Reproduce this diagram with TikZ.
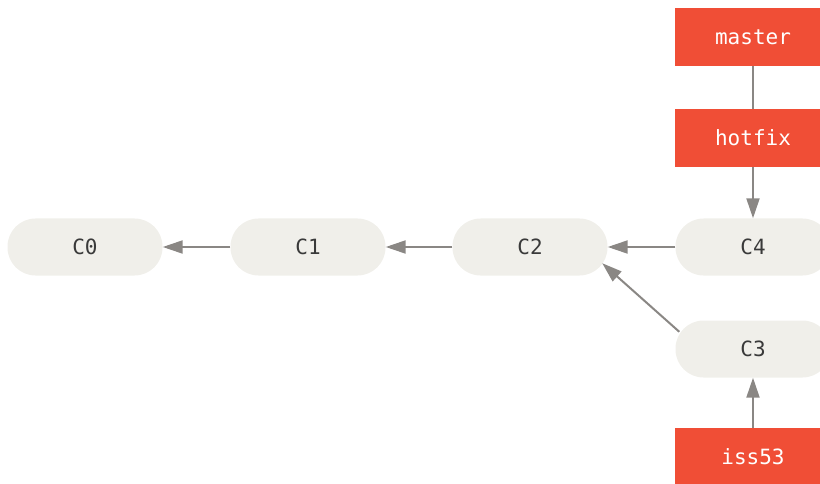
\documentclass[tikz,border=0pt]{standalone}
\usepackage{fontspec}
\setmonofont{DejaVu Sans Mono}
\usetikzlibrary{arrows.meta}
\definecolor{branchred}{HTML}{F04E36}
\definecolor{commitfill}{HTML}{F0EFEA}
\definecolor{linkgray}{HTML}{8A8784}
\definecolor{labelgray}{HTML}{3A3A3A}
\tikzset{
  label font/.style={font=\ttfamily\fontsize{21}{24}\selectfont},
  commit/.style={label font, fill=commitfill, text=labelgray, rounded corners=28pt,
    minimum width=155pt, minimum height=57pt, inner sep=0pt},
  branch/.style={label font, fill=branchred, text=white,
    minimum width=156pt, minimum height=58pt, inner sep=0pt},
  link/.style={draw=linkgray, line width=2pt},
  pointer/.style={link, -{Triangle[length=20pt,width=13pt]}}
}
\begin{document}
\begin{tikzpicture}[x=1pt,y=-1pt]
  \useasboundingbox (0,0) rectangle (820,484);
  \clip (0,0) rectangle (820,484);
  % commits
  \node[commit] (C0) at (85,247) {C0};
  \node[commit] (C1) at (308,247) {C1};
  \node[commit] (C2) at (530,247) {C2};
  \node[commit] (C4) at (753,247) {C4};
  \node[commit] (C3) at (753,349) {C3};
  % branches
  \node[branch] (master) at (753,37) {master};
  \node[branch] (hotfix) at (753,138) {hotfix};
  \node[branch] (iss53) at (753,457) {iss53};
  % history
  \draw[pointer] (C1) -- (C0);
  \draw[pointer] (C2) -- (C1);
  \draw[pointer] (C4) -- (C2);
  \draw[pointer] ([xshift=4pt,yshift=-11.5pt]C3.north west) -- ([xshift=-5.5pt,yshift=12.5pt]C2.south east);
  \draw[link] (master) -- (hotfix);
  \draw[pointer] (hotfix) -- (C4);
  \draw[pointer] (iss53) -- (C3);
\end{tikzpicture}
\end{document}
